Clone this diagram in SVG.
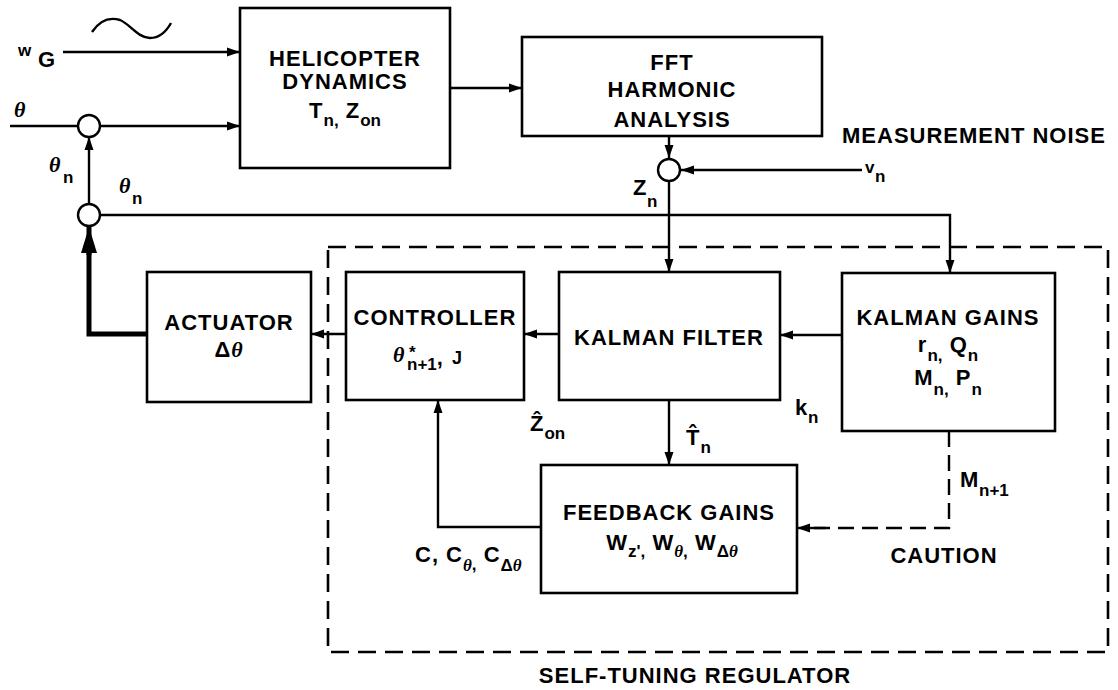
<svg xmlns="http://www.w3.org/2000/svg" width="1118" height="690" viewBox="0 0 1118 690">
<defs>
<style>
.box{fill:#fff;stroke:#000;stroke-width:2.6}
.ln{fill:none;stroke:#000;stroke-width:2.4}
.dash{fill:none;stroke:#000;stroke-width:2.6;stroke-dasharray:18 9}
.t{font-family:"Liberation Sans",Arial,sans-serif;font-weight:bold;font-size:22px;letter-spacing:1px;fill:#000}
.m{text-anchor:middle}
.s{font-size:17px;letter-spacing:0}
.g{font-family:"Liberation Serif","Times New Roman",serif;font-style:italic;font-weight:bold}
</style>
<marker id="ah" markerUnits="userSpaceOnUse" markerWidth="14" markerHeight="10" refX="13" refY="5" orient="auto">
<path d="M0,0.5 L13,5 L0,9.5 z" fill="#000"/>
</marker>
<marker id="ahb" markerUnits="userSpaceOnUse" markerWidth="28" markerHeight="18" refX="26" refY="8" orient="auto">
<path d="M0,0 L26,8 L0,16 z" fill="#000"/>
</marker>
</defs>
<rect width="1118" height="690" fill="#fff"/>

<g id="connectors">
<path class="ln" d="M92,32 C100,20 110,17 120,20 C130,24 138,38 150,38 C160,38 166,32 171,23"/>
<line class="ln" x1="63" y1="52" x2="240" y2="52" marker-end="url(#ah)"/>
<line class="ln" x1="10" y1="126" x2="78" y2="126"/>
<line class="ln" x1="100" y1="126" x2="240" y2="126" marker-end="url(#ah)"/>
<line class="ln" x1="89" y1="204" x2="89" y2="137" marker-end="url(#ah)"/>
<path fill="none" stroke="#000" stroke-width="5" d="M147,334 H89 V252"/>
<line stroke="#000" stroke-width="5" x1="89" y1="255" x2="89" y2="227" marker-end="url(#ahb)"/>
<path class="ln" d="M100,215 H950 V273" marker-end="url(#ah)"/>
<line class="ln" x1="450" y1="88" x2="522" y2="88" marker-end="url(#ah)"/>
<line class="ln" x1="669" y1="136" x2="669" y2="158" marker-end="url(#ah)"/>
<line class="ln" x1="862" y1="170" x2="681" y2="170" marker-end="url(#ah)"/>
<line class="ln" x1="669" y1="182" x2="669" y2="272" marker-end="url(#ah)"/>
<line class="ln" x1="346" y1="334" x2="311" y2="334" marker-end="url(#ah)"/>
<line class="ln" x1="559" y1="334" x2="524" y2="334" marker-end="url(#ah)"/>
<line class="ln" x1="842" y1="335" x2="780" y2="335" marker-end="url(#ah)"/>
<line class="ln" x1="669" y1="400" x2="669" y2="465" marker-end="url(#ah)"/>
<path class="ln" d="M541,527 H438 V400" marker-end="url(#ah)"/>
<path fill="none" stroke="#000" stroke-width="2.4" stroke-dasharray="16 8" d="M949,431 V528 H812"/>
<line class="ln" x1="825" y1="528" x2="797" y2="528" marker-end="url(#ah)"/>
</g>

<g id="regulator">
<rect class="dash" x="328" y="247" width="780" height="405"/>
<text class="t m" x="695" y="683">SELF-TUNING REGULATOR</text>
</g>

<g id="sum1"><circle cx="89" cy="126" r="11" fill="#fff" stroke="#000" stroke-width="2.4"/></g>
<g id="sum2"><circle cx="89" cy="215" r="11" fill="#fff" stroke="#000" stroke-width="2.4"/></g>
<g id="sum3"><circle cx="669" cy="170" r="11" fill="#fff" stroke="#000" stroke-width="2.4"/></g>

<g id="helicopter">
<rect class="box" x="240" y="8" width="210" height="160"/>
<text class="t m" x="345" y="66">HELICOPTER</text>
<text class="t m" x="345" y="89">DYNAMICS</text>
<text class="t m" x="345" y="118">T<tspan class="s" dy="8">n,</tspan><tspan dy="-8"> Z</tspan><tspan class="s" dy="8">on</tspan></text>
</g>

<g id="fft">
<rect class="box" x="522" y="37" width="300" height="99"/>
<text class="t m" x="672" y="70">FFT</text>
<text class="t m" x="672" y="97">HARMONIC</text>
<text class="t m" x="672" y="127">ANALYSIS</text>
</g>

<g id="actuator">
<rect class="box" x="147" y="272" width="164" height="130"/>
<text class="t m" x="229" y="330">ACTUATOR</text>
<text class="t m" x="229" y="357">Δ<tspan class="g">θ</tspan></text>
</g>

<g id="controller">
<rect class="box" x="346" y="272" width="178" height="128"/>
<text class="t m" x="435" y="325">CONTROLLER</text>
<text class="t" x="393" y="362"><tspan class="g">θ</tspan><tspan x="409" dy="-4" style="font-size:17px">*</tspan><tspan class="s" x="407" dy="12">n+1</tspan><tspan dy="-5">,</tspan><tspan x="452" dy="-1" style="font-size:18px">J</tspan></text>
</g>

<g id="kalman-filter">
<rect class="box" x="559" y="272" width="221" height="128"/>
<text class="t m" x="669" y="345">KALMAN FILTER</text>
</g>

<g id="kalman-gains">
<rect class="box" x="842" y="273" width="213" height="158"/>
<text class="t m" x="948" y="325">KALMAN GAINS</text>
<text class="t m" x="948" y="352">r<tspan class="s" dy="9">n,</tspan><tspan dy="-9"> Q</tspan><tspan class="s" dy="9">n</tspan></text>
<text class="t m" x="948" y="385">M<tspan class="s" dy="10">n,</tspan><tspan dy="-10"> P</tspan><tspan class="s" dy="10">n</tspan></text>
</g>

<g id="feedback-gains">
<rect class="box" x="541" y="465" width="256" height="128"/>
<text class="t m" x="669" y="520">FEEDBACK GAINS</text>
<text class="t m" x="672" y="550">W<tspan class="s" dy="7">z',</tspan><tspan dy="-7"> W</tspan><tspan class="s g" dy="7">θ</tspan><tspan class="s">,</tspan><tspan dy="-7"> W</tspan><tspan class="s" dy="7">Δ</tspan><tspan class="s g">θ</tspan></text>
</g>

<g id="labels">
<text class="t" x="18" y="56" style="font-size:17px">w</text>
<text class="t" x="38" y="67">G</text>
<text class="t g" x="14" y="117">θ</text>
<text class="t g" x="49" y="172">θ</text>
<text class="t s" x="63" y="183">n</text>
<text class="t g" x="119" y="193">θ</text>
<text class="t s" x="132" y="204">n</text>
<text class="t" x="633" y="195">Z</text>
<text class="t s" x="647" y="207">n</text>
<text class="t" x="865" y="173" style="font-size:17px">v</text>
<text class="t s" x="875" y="182">n</text>
<text class="t" x="842" y="143">MEASUREMENT NOISE</text>
<text class="t" x="530" y="431">Z&#x302;<tspan class="s" dy="8">on</tspan></text>
<text class="t" x="686" y="445">T&#x302;<tspan class="s" dy="8">n</tspan></text>
<text class="t" x="415" y="562">C, C<tspan class="s g" dy="9">θ</tspan><tspan class="s" dy="-1">,</tspan><tspan dy="-8"> C</tspan><tspan class="s" dy="9">Δ</tspan><tspan class="s g">θ</tspan></text>
<text class="t" x="795" y="415">k</text>
<text class="t s" x="808" y="423">n</text>
<text class="t" x="960" y="487">M</text>
<text class="t s" x="979" y="496">n+1</text>
<text class="t m" x="944" y="563">CAUTION</text>
</g>
</svg>
